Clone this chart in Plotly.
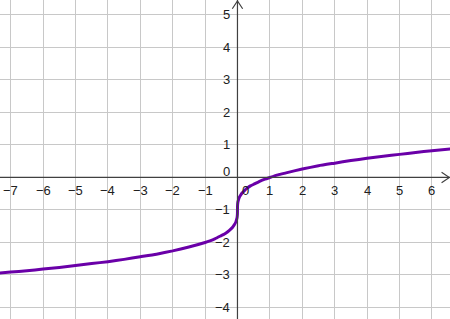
import plotly.graph_objects as go

# Curve values
curve_x = [-7.4, -7, -6.5, -6, -5.5, -5, -4.5, -4, -3.5, -3, -2.5, -2, -1.5, -1,
           -0.85, -0.7, -0.5, -0.4, -0.3, -0.2, -0.15, -0.1, -0.05, -0.02, -0.01,
           -0.005, -0.001, 0, 0.001, 0.005, 0.01, 0.02, 0.05, 0.1, 0.15, 0.2,
           0.3, 0.4, 0.5, 0.7, 0.85, 1, 1.25, 1.5, 2, 2.5, 3, 3.5, 4, 4.5, 5,
           5.5, 6, 6.6]
curve_y = [-2.95, -2.91, -2.87, -2.82, -2.77, -2.71, -2.65, -2.59, -2.52, -2.44,
           -2.36, -2.26, -2.14, -2.0, -1.95, -1.89, -1.79, -1.74, -1.67, -1.58,
           -1.53, -1.46, -1.37, -1.27, -1.22, -1.17, -1.10, -1.0, -0.90, -0.83,
           -0.78, -0.73, -0.63, -0.54, -0.47, -0.42, -0.33, -0.26, -0.21, -0.11,
           -0.05, 0.0, 0.08, 0.14, 0.26, 0.36, 0.44, 0.52, 0.59, 0.65, 0.71,
           0.77, 0.82, 0.88]

x_ticks = [-7, -6, -5, -4, -3, -2, -1, 1, 2, 3, 4, 5, 6]
y_ticks = [-4, -3, -2, -1, 1, 2, 3, 4, 5]

XR = [-7.33, 6.56]
YR = [-4.355, 5.46]
AXIS = "#404040"
FONT = dict(family="Liberation Sans, Arial, sans-serif", size=13, color="#202020")

fig = go.Figure()
fig.add_trace(go.Scatter(x=curve_x, y=curve_y, mode="lines",
                         line=dict(color="#6a00a8", width=3, shape="spline",
                                   smoothing=0.5),
                         hoverinfo="skip"))

def lab(v):
    return ("\u2212" + str(-v)) if v < 0 else str(v)

ann = []
for v in x_ticks:
    ann.append(dict(x=v, y=0, text=lab(v), showarrow=False, xanchor="center",
                    yanchor="top", yshift=-4, font=FONT))
for v in y_ticks:
    ann.append(dict(x=0, y=v, text=lab(v), showarrow=False, xanchor="right",
                    yanchor="middle", xshift=-5, font=FONT))
ann.append(dict(x=0, y=0, text="0", showarrow=False, xanchor="right",
                yanchor="middle", xshift=-5, yshift=6, font=FONT))
ann.append(dict(x=0, y=0, text="0", showarrow=False, xanchor="center",
                yanchor="top", xshift=8, yshift=-4, font=FONT))

shapes = [
    dict(type="line", xref="x", yref="y", x0=XR[0], x1=XR[1], y0=0, y1=0,
         line=dict(color=AXIS, width=1.2), layer="above"),
    dict(type="line", xref="x", yref="y", x0=0, x1=0, y0=YR[0], y1=YR[1],
         line=dict(color=AXIS, width=1.2), layer="above"),
    dict(type="path", xref="x", yref="y",
         path=f"M {XR[1]-0.26},0.16 L {XR[1]-0.02},0 L {XR[1]-0.26},-0.16",
         line=dict(color=AXIS, width=1.2), layer="above"),
    dict(type="path", xref="x", yref="y",
         path=f"M -0.16,{YR[1]-0.27} L 0,{YR[1]-0.03} L 0.16,{YR[1]-0.27}",
         line=dict(color=AXIS, width=1.2), layer="above"),
]

fig.update_layout(
    width=450, height=319, margin=dict(l=0, r=0, t=0, b=0),
    paper_bgcolor="white", plot_bgcolor="white", showlegend=False,
    annotations=ann, shapes=shapes,
    xaxis=dict(range=XR, dtick=1, tick0=0, showgrid=True, gridcolor="#c8c8c8",
               gridwidth=1, zeroline=False, showticklabels=False, ticks="",
               fixedrange=True),
    yaxis=dict(range=YR, dtick=1, tick0=0, showgrid=True, gridcolor="#c8c8c8",
               gridwidth=1, zeroline=False, showticklabels=False, ticks="",
               fixedrange=True),
)
fig.write_html("out.html")
